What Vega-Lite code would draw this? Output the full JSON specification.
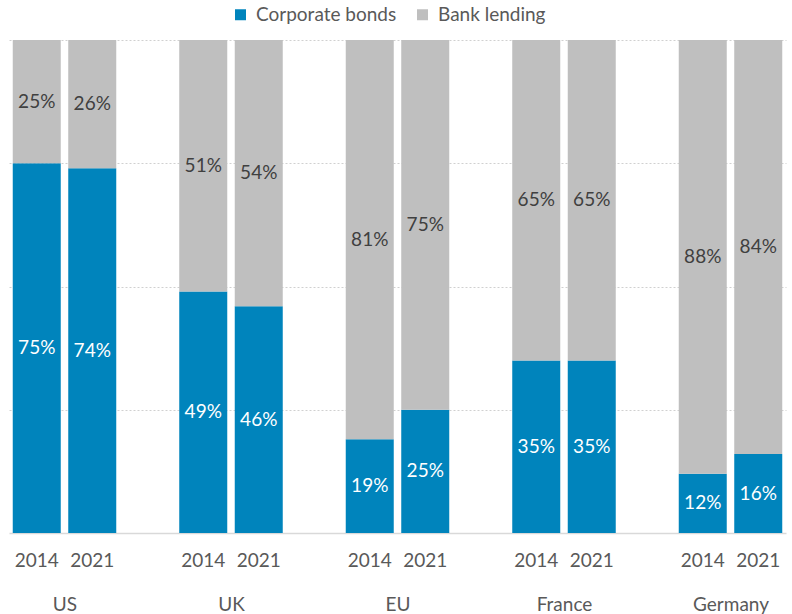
{
  "$schema": "https://vega.github.io/schema/vega-lite/v6.json",
  "width": 777,
  "height": 493,
  "autosize": {"type": "none"},
  "padding": {"left": 9, "top": 40, "right": 6, "bottom": 81},
  "config": {"font": "Lato", "view": {"stroke": null}},
  "data": {
    "values": [
      {"country": "US", "year": "2014", "type": "Corporate bonds", "value": 75},
      {"country": "US", "year": "2014", "type": "Bank lending", "value": 25},
      {"country": "US", "year": "2021", "type": "Corporate bonds", "value": 74},
      {"country": "US", "year": "2021", "type": "Bank lending", "value": 26},
      {"country": "UK", "year": "2014", "type": "Corporate bonds", "value": 49},
      {"country": "UK", "year": "2014", "type": "Bank lending", "value": 51},
      {"country": "UK", "year": "2021", "type": "Corporate bonds", "value": 46},
      {"country": "UK", "year": "2021", "type": "Bank lending", "value": 54},
      {"country": "EU", "year": "2014", "type": "Corporate bonds", "value": 19},
      {"country": "EU", "year": "2014", "type": "Bank lending", "value": 81},
      {"country": "EU", "year": "2021", "type": "Corporate bonds", "value": 25},
      {"country": "EU", "year": "2021", "type": "Bank lending", "value": 75},
      {"country": "France", "year": "2014", "type": "Corporate bonds", "value": 35},
      {"country": "France", "year": "2014", "type": "Bank lending", "value": 65},
      {"country": "France", "year": "2021", "type": "Corporate bonds", "value": 35},
      {"country": "France", "year": "2021", "type": "Bank lending", "value": 65},
      {"country": "Germany", "year": "2014", "type": "Corporate bonds", "value": 12},
      {"country": "Germany", "year": "2014", "type": "Bank lending", "value": 88},
      {"country": "Germany", "year": "2021", "type": "Corporate bonds", "value": 16},
      {"country": "Germany", "year": "2021", "type": "Bank lending", "value": 84}
    ]
  },
  "transform": [
    {"calculate": "datum.country + ' ' + datum.year", "as": "bar"},
    {"calculate": "datum.value + '%'", "as": "label"},
    {"stack": "value", "groupby": ["bar"], "sort": [{"field": "type", "order": "descending"}], "as": ["v0", "v1"]},
    {"calculate": "(datum.v0 + datum.v1) / 2", "as": "mid"}
  ],
  "layer": [
    {
      "layer": [
        {
          "mark": {"type": "bar"},
          "encoding": {
            "x": {
              "field": "bar",
              "type": "nominal",
              "sort": null,
              "scale": {
                "domain": ["US 2014", "US 2021", "gap1", "UK 2014", "UK 2021", "gap2", "EU 2014", "EU 2021", "gap3", "France 2014", "France 2021", "gap4", "Germany 2014", "Germany 2021"],
                "paddingInner": 0.135,
                "paddingOuter": 0.0675
              },
              "axis": {
                "title": null,
                "orient": "bottom",
                "labelAngle": 0,
                "ticks": false,
                "labelPadding": 18,
                "labelFontSize": 19,
                "labelColor": "#595959",
                "domainColor": "#D9D9D9",
                "domainWidth": 1.5,
                "grid": false,
                "labelExpr": "indexof(datum.value, 'gap') == 0 ? '' : slice(datum.value, -4)"
              }
            },
            "y": {
              "field": "v0",
              "type": "quantitative",
              "scale": {"domain": [0, 100], "nice": false},
              "axis": {
                "title": null,
                "labels": false,
                "ticks": false,
                "domain": false,
                "grid": true,
                "values": [25, 50, 75, 100],
                "gridColor": "#D0D0D0",
                "gridDash": [2, 2],
                "gridWidth": 1
              }
            },
            "y2": {"field": "v1"},
            "color": {
              "field": "type",
              "type": "nominal",
              "scale": {"domain": ["Corporate bonds", "Bank lending"], "range": ["#0084BC", "#BFBFBF"]},
              "legend": {
                "title": null,
                "orient": "none",
                "legendX": 222,
                "legendY": -35,
                "direction": "horizontal",
                "symbolType": "square",
                "symbolSize": 121,
                "symbolStrokeWidth": 0,
                "labelFontSize": 19,
                "labelColor": "#595959",
                "labelOffset": 6,
                "columnPadding": 16,
                "padding": 0
              }
            }
          }
        },
        {
          "mark": {"type": "text", "fontSize": 19, "baseline": "middle"},
          "encoding": {
            "x": {
              "field": "bar",
              "type": "nominal",
              "sort": null,
              "axis": {
                "title": null,
                "orient": "bottom",
                "labelAngle": 0,
                "ticks": false,
                "labelPadding": 18,
                "labelFontSize": 19,
                "labelColor": "#595959",
                "domainColor": "#D9D9D9",
                "domainWidth": 1.5,
                "grid": false,
                "labelExpr": "indexof(datum.value, 'gap') == 0 ? '' : slice(datum.value, -4)"
              }
            },
            "y": {
              "field": "mid",
              "type": "quantitative",
              "axis": {
                "title": null,
                "labels": false,
                "ticks": false,
                "domain": false,
                "grid": true,
                "values": [25, 50, 75, 100],
                "gridColor": "#D0D0D0",
                "gridDash": [2, 2],
                "gridWidth": 1
              }
            },
            "text": {"field": "label", "type": "nominal"},
            "color": {
              "condition": {"test": "datum.type == 'Corporate bonds'", "value": "#FFFFFF"},
              "value": "#404040"
            }
          }
        }
      ]
    },
    {
      "mark": {"type": "text", "text": ""},
      "encoding": {
        "x": {
          "field": "country",
          "type": "nominal",
          "sort": null,
          "scale": {"type": "point", "padding": 0.3333, "domain": ["US", "UK", "EU", "France", "Germany"]},
          "axis": {
            "orient": "bottom",
            "title": null,
            "labelAngle": 0,
            "ticks": false,
            "domain": false,
            "grid": false,
            "labelPadding": 62,
            "labelFontSize": 19,
            "labelColor": "#595959"
          }
        }
      }
    }
  ],
  "resolve": {"scale": {"x": "independent"}, "axis": {"x": "independent"}}
}
